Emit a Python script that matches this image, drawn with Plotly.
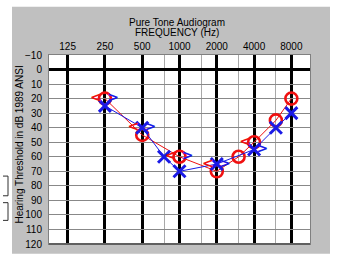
import math
import plotly.graph_objects as go

# ---- data ----
tick_freqs = [125, 250, 500, 1000, 2000, 4000, 8000]
tick_labels = ["125", "250", "500", "1000", "2000", "4000", "8000"]
half_octaves = [750, 1500, 3000, 6000]
db_ticks = list(range(-10, 121, 10))

right_air_f = [250, 500, 1000, 2000, 3000, 4000, 6000, 8000]
right_air_db = [20, 45, 60, 70, 60, 50, 35, 20]

left_air_f = [250, 500, 750, 1000, 2000, 4000, 6000, 8000]
left_air_db = [25, 40, 60, 70, 65, 55, 40, 30]

bone_f = [250, 500, 1000, 2000, 4000]
right_bone_db = [20, 40, 60, 65, 50]
left_bone_db = [20, 40, 60, 65, 55]

# ---- layout geometry (pixels) ----
W, H = 343, 262
L, R, T, B = 49, 33, 55, 15
PW, PH = W - L - R, H - T - B

def px(x):
    return (x - L) / PW

def py(y):
    return (H - B - y) / PH

RED = "#f01010"
BLUE = "#1a1ae6"
FONT = "Arial, Liberation Sans, sans-serif"

bone_off_r = 2 ** -0.24
bone_off_l = 2 ** 0.22

fig = go.Figure()
fig.add_trace(go.Scatter(x=right_air_f, y=right_air_db, mode="lines+markers",
                         line=dict(color=RED, width=1),
                         marker=dict(symbol="circle-open", size=12, color=RED,
                                     line=dict(width=2.6, color=RED))))
fig.add_trace(go.Scatter(x=left_air_f, y=left_air_db, mode="lines+markers",
                         line=dict(color=BLUE, width=1),
                         marker=dict(symbol="x-thin-open", size=12, color=BLUE,
                                     line=dict(width=3, color=BLUE))))
fig.add_trace(go.Scatter(x=[f * bone_off_r for f in bone_f], y=right_bone_db, mode="text",
                         text=["<"] * len(bone_f), textposition="middle center",
                         textfont=dict(size=14, color=RED, family="DejaVu Sans", weight="bold")))
fig.add_trace(go.Scatter(x=[f * bone_off_l for f in bone_f], y=left_bone_db, mode="text",
                         text=[">"] * len(bone_f), textposition="middle center",
                         textfont=dict(size=14, color=BLUE, family="DejaVu Sans", weight="bold")))

shapes = [
    dict(type="rect", xref="paper", yref="paper", x0=px(12), x1=px(330), y0=py(257), y1=py(6),
         fillcolor="#c0c0c0", line=dict(width=0), layer="below"),
    dict(type="rect", xref="paper", yref="paper", x0=0, x1=1, y0=0, y1=1,
         fillcolor="white", line=dict(width=0), layer="below"),
    dict(type="line", xref="paper", yref="paper", x0=0, x1=1, y0=0, y1=0,
         line=dict(color="#606060", width=2)),
]
for y0, y1 in [(178, 198), (205, 223)]:
    shapes.append(dict(type="path", xref="paper", yref="paper",
                       path=f"M {px(3)},{py(y0)} L {px(8)},{py(y0)} L {px(8)},{py(y1)} L {px(3)},{py(y1)}",
                       line=dict(color="#303030", width=1)))

annotations = [
    dict(text="Pure Tone Audiogram", x=px(177), y=py(21.5), xref="paper", yref="paper",
         showarrow=False, xanchor="center", yanchor="middle", font=dict(size=10, family=FONT, color="black")),
    dict(text="FREQUENCY (Hz)", x=px(177), y=py(32.5), xref="paper", yref="paper",
         showarrow=False, xanchor="center", yanchor="middle", font=dict(size=10, family=FONT, color="black")),
    dict(text="Hearing Threshold in dB 1989 ANSI", x=px(20), y=py(146), xref="paper", yref="paper",
         showarrow=False, xanchor="center", yanchor="middle", textangle=-90,
         font=dict(size=10, family=FONT, color="black")),
]

fig.update_layout(
    width=W, height=H, margin=dict(l=L, r=R, t=T, b=B),
    paper_bgcolor="white", plot_bgcolor="white", showlegend=False,
    shapes=shapes, annotations=annotations,
    xaxis=dict(type="log", side="top",
               range=[math.log10(125 / math.sqrt(2)), math.log10(8000 * math.sqrt(2))],
               tickmode="array", tickvals=tick_freqs, ticktext=tick_labels,
               showgrid=True, gridcolor="black", gridwidth=3,
               minor=dict(tickmode="array", tickvals=half_octaves, showgrid=True,
                          gridcolor="#a8a8a8", gridwidth=1, ticks=""),
               showline=True, mirror=True, linecolor="#808080", linewidth=1,
               zeroline=False, ticks="", ticklabelstandoff=0,
               tickfont=dict(size=10, family=FONT, color="black"), fixedrange=True),
    yaxis=dict(range=[120, -10], tickmode="array", tickvals=db_ticks,
               showgrid=True, gridcolor="#888888", gridwidth=1,
               zeroline=True, zerolinecolor="black", zerolinewidth=3,
               showline=True, mirror=True, linecolor="#808080", linewidth=1,
               ticks="", ticklabelstandoff=4,
               tickfont=dict(size=10, family=FONT, color="black"), fixedrange=True),
)

fig.write_html("out.html", config={"displayModeBar": False})
